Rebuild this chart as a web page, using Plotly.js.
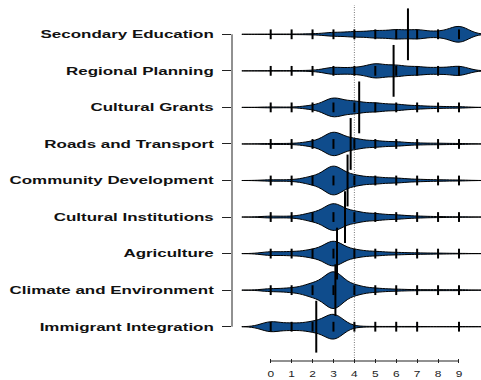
<!DOCTYPE html>
<html>
<head>
<meta charset="utf-8">
<script src="https://cdn.plot.ly/plotly-3.0.1.min.js"></script>
<style>
  html, body { margin: 0; padding: 0; background: #ffffff; }
  #chart { width: 481px; height: 380px; }
</style>
</head>
<body>
<div id="chart"></div>
<script>
// Policy areas, top to bottom
const categories = [
  "Secondary Education",
  "Regional Planning",
  "Cultural Grants",
  "Roads and Transport",
  "Community Development",
  "Cultural Institutions",
  "Agriculture",
  "Climate and Environment",
  "Immigrant Integration"
];

// Response scale
const scores = [0, 1, 2, 3, 4, 5, 6, 7, 8, 9];

// Number of responses at each score (0..9) for every policy area
const secondaryEducation   = [1, 1, 2, 8, 11, 15, 19, 19, 11, 36];
const regionalPlanning     = [1, 1, 2, 15, 13, 30, 23, 17, 13, 20];
const culturalGrants       = [2, 1, 8, 41, 25, 18, 13, 7, 4, 3];
const roadsAndTransport    = [2, 2, 10, 52, 21, 13, 9, 4, 3, 2];
const communityDevelopment = [3, 3, 16, 64, 21, 14, 10, 5, 3, 2];
const culturalInstitutions = [4, 3, 17, 59, 23, 14, 9, 4, 2, 1];
const agriculture          = [8, 8, 16, 55, 16, 9, 5, 3, 2, 1];
const climateEnvironment   = [6, 9, 27, 82, 20, 8, 4, 2, 2, 2];
const immigrantIntegration = [22, 14, 20, 56, 2, 1, 1, 1, 0, 1];

const countsByArea = [
  secondaryEducation, regionalPlanning, culturalGrants, roadsAndTransport,
  communityDevelopment, culturalInstitutions, agriculture, climateEnvironment,
  immigrantIntegration
];

// Dotted reference score
const referenceScore = 4;

// ---- styling ----
const beanFill = "#0f4c8c";
const inkColor = "#000000";
const axisColor = "#222222";
const bandwidth = 0.46;
const labelStretch = 1.54;
const tickStretch = 1.4;

function expand(counts) {
  const out = [];
  counts.forEach((c, k) => { for (let n = 0; n < c; n++) out.push(scores[k]); });
  return out;
}

const traces = [];
const tickTrace = { x: [], y: [] };
const meanTrace = { x: [], y: [] };

categories.forEach((cat, i) => {
  const counts = countsByArea[i];
  const samples = expand(counts);
  traces.push({
    type: "violin",
    orientation: "h",
    x: samples,
    y: samples.map(() => cat),
    name: cat,
    scalegroup: "beans",
    scalemode: "count",
    bandwidth: bandwidth,
    spanmode: "manual",
    span: [scores[0] - 3 * bandwidth, scores[scores.length - 1] + 3 * bandwidth],
    points: false,
    box: { visible: false },
    meanline: { visible: false },
    line: { color: inkColor, width: 1 },
    fillcolor: beanFill,
    hoverinfo: "skip",
    showlegend: false
  });
  counts.forEach((c, k) => {
    if (c > 0) { tickTrace.x.push(scores[k]); tickTrace.y.push(cat); }
  });
  const mean = samples.reduce((a, b) => a + b, 0) / samples.length;
  meanTrace.x.push(mean);
  meanTrace.y.push(cat);
});

traces.push({
  type: "scatter", mode: "markers",
  x: tickTrace.x, y: tickTrace.y,
  marker: { symbol: "line-ns", size: 7, color: inkColor, line: { color: inkColor, width: 2 } },
  hoverinfo: "skip", showlegend: false, cliponaxis: false
});
traces.push({
  type: "scatter", mode: "markers",
  x: meanTrace.x, y: meanTrace.y,
  marker: { symbol: "line-ns", size: 37, color: inkColor, line: { color: inkColor, width: 2 } },
  hoverinfo: "skip", showlegend: false, cliponaxis: false
});

const plotTop = 5, plotBottom = 358, plotLeft = 232, width = 481, height = 380;
const rowStep = 36.55;             // px between beans
const firstRowPx = 34.3, lastRowPx = 326.7;
const yLow = -(plotBottom - lastRowPx) / rowStep;
const yHigh = (categories.length - 1) + (firstRowPx - plotTop) / rowStep;
const pxPerUnit = 20.92, zeroPx = 270.7;

const layout = {
  width: width, height: height,
  margin: { l: plotLeft, r: 0, t: plotTop, b: height - plotBottom, pad: 0 },
  paper_bgcolor: "#ffffff", plot_bgcolor: "#ffffff",
  violinmode: "overlay",
  violingap: 0,
  violingroupgap: 0,
  showlegend: false,
  xaxis: {
    range: [(plotLeft - zeroPx) / pxPerUnit, (width - zeroPx) / pxPerUnit],
    tickvals: scores,
    ticktext: scores.map(String),
    ticks: "outside", ticklen: 4, tickwidth: 1, tickcolor: axisColor,
    showgrid: false, zeroline: false, showline: false,
    tickfont: { family: "Liberation Sans, Arial, sans-serif", size: 8.5, color: axisColor },
    ticklabelstandoff: 4,
    fixedrange: true
  },
  yaxis: {
    type: "category",
    categoryorder: "array",
    categoryarray: categories.slice().reverse(),
    range: [yLow, yHigh],
    ticks: "outside", ticklen: 9, tickwidth: 1, tickcolor: axisColor,
    showgrid: false, zeroline: false, showline: false,
    tickfont: { family: "Liberation Sans, Arial, sans-serif", size: 11, color: "#111111", weight: "bold" },
    ticklabelstandoff: 6,
    fixedrange: true
  },
  shapes: [
    { type: "line", layer: "below", xref: "x", yref: "paper",
      x0: referenceScore, x1: referenceScore, y0: 0, y1: 1,
      line: { color: "#777777", width: 1, dash: "1px,1.5px" } },
    { type: "line", xref: "paper", yref: "y",
      x0: 0, x1: 0, y0: 0, y1: categories.length - 1,
      line: { color: axisColor, width: 1 } },
    { type: "line", xref: "x", yref: "paper",
      x0: scores[0], x1: scores[scores.length - 1], y0: -3 / (plotBottom - plotTop), y1: -3 / (plotBottom - plotTop),
      line: { color: axisColor, width: 1 } }
  ]
};

function stretchText(selector, factor) {
  document.querySelectorAll(selector).forEach(t => {
    t.removeAttribute("textLength");
    const w = t.getComputedTextLength();
    t.setAttribute("textLength", (w * factor).toFixed(2));
    t.setAttribute("lengthAdjust", "spacingAndGlyphs");
  });
}

function widenLabels() {
  stretchText("#chart .yaxislayer-above .ytick text", labelStretch);
  stretchText("#chart .xaxislayer-above .xtick text", tickStretch);
}

Plotly.newPlot("chart", traces, layout, { staticPlot: true, displayModeBar: false, responsive: false })
  .then(gd => { widenLabels(); gd.on("plotly_afterplot", widenLabels); });
</script>
</body>
</html>
